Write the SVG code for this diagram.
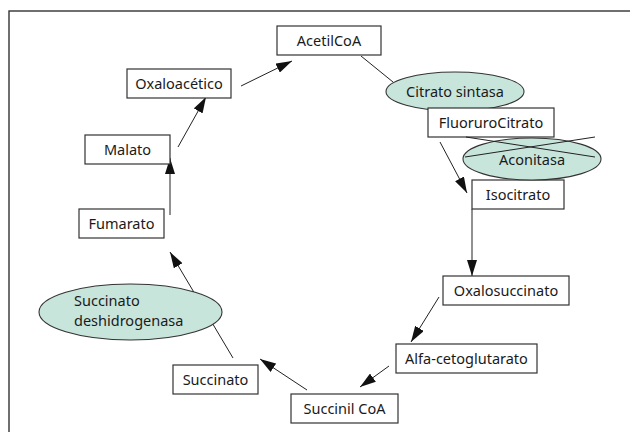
<svg xmlns="http://www.w3.org/2000/svg" width="630" height="432" viewBox="0 0 630 432">
<style>
.box{fill:#fff;stroke:#333;stroke-width:1.2}
.enz{fill:#c8e5dc;stroke:#333;stroke-width:1.1}
.t{font-family:"Noto Sans","Liberation Sans",sans-serif;font-size:14.5px;fill:#1a1a1a;text-anchor:middle}
.c{stroke:#222;stroke-width:1;fill:none}
.a{marker-end:url(#ah)}
</style>
<defs>
<marker id="ah" viewBox="0 0 16 10" refX="16" refY="5" markerWidth="16" markerHeight="10" markerUnits="userSpaceOnUse" orient="auto">
<path d="M0,0 L16,5 L0,10 Z" fill="#111"/>
</marker>
</defs>
<rect x="9" y="11" width="640" height="440" fill="#fff" stroke="#333" stroke-width="1.4"/>
<g id="connectors">
<line class="c a" x1="241" y1="86" x2="292" y2="61"/>
<line class="c a" x1="178" y1="147" x2="206" y2="97"/>
<line class="c a" x1="170" y1="215" x2="170" y2="158"/>
<line class="c a" x1="233" y1="358" x2="170" y2="252"/>
<line class="c a" x1="307" y1="390" x2="260" y2="359"/>
<line class="c a" x1="389" y1="366" x2="360" y2="387"/>
<line class="c a" x1="439" y1="297" x2="411" y2="342"/>
<line class="c a" x1="472" y1="209" x2="472" y2="276"/>
<line class="c a" x1="440" y1="142" x2="467" y2="193"/>
<line class="c" x1="361" y1="56" x2="393" y2="82"/>
</g>
<g id="acetilcoa"><rect class="box" x="277" y="26" width="104" height="29"/><text class="t" x="329" y="45.5">AcetilCoA</text></g>
<g id="oxaloacetico"><rect class="box" x="127" y="69" width="104" height="29"/><text class="t" x="179" y="88.5">Oxaloacético</text></g>
<g id="malato"><rect class="box" x="85" y="135" width="85" height="29"/><text class="t" x="127.5" y="154.5">Malato</text></g>
<g id="fumarato"><rect class="box" x="79" y="209" width="85" height="29"/><text class="t" x="121.5" y="228.5">Fumarato</text></g>
<g id="succinato-deshidrogenasa"><ellipse class="enz" cx="130.5" cy="312" rx="91.5" ry="28"/><text class="t" x="74" y="306" style="text-anchor:start">Succinato</text><text class="t" x="74" y="326" style="text-anchor:start">deshidrogenasa</text></g>
<g id="succinato"><rect class="box" x="173" y="365" width="85" height="29"/><text class="t" x="215.5" y="384.5">Succinato</text></g>
<g id="succinilcoa"><rect class="box" x="291" y="394" width="107" height="29"/><text class="t" x="344.5" y="413.5">Succinil CoA</text></g>
<g id="alfacetoglutarato"><rect class="box" x="396" y="344" width="141" height="29"/><text class="t" x="466.5" y="363.5">Alfa-cetoglutarato</text></g>
<g id="oxalosuccinato"><rect class="box" x="443" y="276" width="126" height="29"/><text class="t" x="506" y="295.5">Oxalosuccinato</text></g>
<g id="isocitrato"><rect class="box" x="472" y="180" width="92" height="29"/><text class="t" x="518" y="199.5">Isocitrato</text></g>
<g id="citrato-sintasa"><ellipse class="enz" cx="455" cy="91.5" rx="69" ry="19.5"/><text class="t" x="455" y="96.5">Citrato sintasa</text></g>
<g id="fluorurocitrato"><rect class="box" x="428" y="108" width="126" height="29"/><text class="t" x="491" y="127.5">FluoruroCitrato</text></g>
<g id="aconitasa"><ellipse class="enz" cx="532" cy="159" rx="69" ry="21"/><text class="t" x="532" y="165">Aconitasa</text>
<line class="c" x1="466" y1="137" x2="595" y2="157"/><line class="c" x1="465" y1="157" x2="595" y2="137"/></g>
</svg>
